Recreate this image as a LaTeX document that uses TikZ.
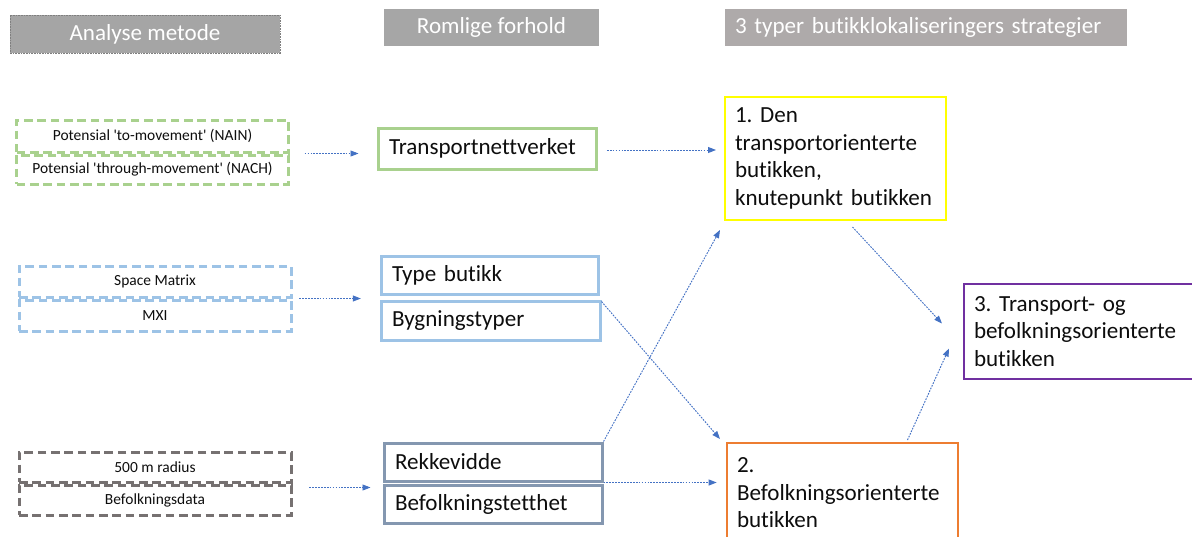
\documentclass[tikz,border=0pt]{standalone}
\usepackage{fontspec}
\setmainfont{Carlito}[Ligatures={NoCommon}]
\usetikzlibrary{arrows.meta,calc}
\frenchspacing

\definecolor{hdrA}{HTML}{A5A5A5}
\definecolor{hdrB}{HTML}{A6A6A6}
\definecolor{hdrC}{HTML}{AEAAAA}
\definecolor{hdrEdge}{HTML}{7F7F7F}
\definecolor{greenE}{HTML}{A9D18E}
\definecolor{blueE}{HTML}{9DC3E6}
\definecolor{grayE}{HTML}{767171}
\definecolor{slateE}{HTML}{8497B0}
\definecolor{yellowE}{HTML}{FFFF00}
\definecolor{orangeE}{HTML}{ED7D31}
\definecolor{purpleE}{HTML}{7030A0}
\definecolor{linkC}{HTML}{4472C4}
\definecolor{txt}{HTML}{0D0D0D}

\begin{document}
\begin{tikzpicture}[x=0.75pt,y=-0.75pt,
  header/.style={fill=#1, text=white, font=\fontsize{17.3}{20}\selectfont,
    inner sep=0pt},
  method/.style={draw=#1, line width=2.25pt, dash pattern=on 6.5pt off 3.5pt,
    text=txt, font=\fontsize{11.6}{13}\selectfont, inner sep=0pt,
    minimum width=272*0.75pt},
  spatial/.style={draw=#1, line width=2.25pt, text=txt,
    font=\fontsize{17.3}{20}\selectfont, align=left, inner xsep=8.25pt,
    inner ysep=0pt},
  strategy/.style={draw=#1, line width=1.5pt, text=txt,
    font=\fontsize{17.3}{20.6}\selectfont, align=left, inner xsep=7.5pt,
    inner ysep=0pt},
  link/.style={draw=linkC, line width=0.7pt, dash pattern=on 1.3pt off 0.9pt,
    -{Triangle[length=6pt,width=4.5pt]}}
]
\clip (0,0) rectangle (1192,536);
\useasboundingbox (0,0) rectangle (1192,536);

% column headers
\node[header=hdrA, draw=hdrEdge, line width=0.6pt, dash pattern=on 1.2pt off 0.8pt,
  minimum width=270*0.75pt, minimum height=38*0.75pt] (hA) at (145,34) {Analyse metode};
\node[header=hdrB, minimum width=215*0.75pt, minimum height=37*0.75pt] (hB) at (491.5,27.5) {Romlige forhold};
\node[header=hdrC, minimum height=37*0.75pt, text width=382*0.75pt, inner xsep=7.5pt,
  align=left] (hC) at (926,27.5) {3 typer butikklokaliseringers strategier};

% analysis methods
\node[method=greenE, minimum height=32*0.75pt] (g1) at (152.5,136) {Potensial \textquotesingle to-movement\textquotesingle{} (NAIN)};
\node[method=greenE, minimum height=29*0.75pt] (g2) at (152.5,169.5) {Potensial \textquotesingle through-movement\textquotesingle{} (NACH)};
\node[method=blueE, minimum height=31*0.75pt] (s1) at (155,281.5) {Space Matrix};
\node[method=blueE, minimum height=31*0.75pt] (s2) at (155,315.5) {MXI};
\node[method=grayE, minimum height=30*0.75pt] (p1) at (155,467) {500 m radius};
\node[method=grayE, minimum height=30*0.75pt] (p2) at (155,500) {Befolkningsdata};

% spatial conditions
\node[spatial=greenE, minimum height=41*0.75pt, text width=196*0.75pt] (tn) at (487,148.5) {Transportnettverket};
\node[spatial=blueE, minimum height=38*0.75pt, text width=195*0.75pt] (tb) at (489.5,275) {Type butikk};
\node[spatial=blueE, minimum height=39*0.75pt, text width=197*0.75pt] (by) at (490.5,320.5) {Bygningstyper};
\node[spatial=slateE, minimum height=38*0.75pt, text width=196*0.75pt] (rk) at (493,462) {Rekkevidde};
\node[spatial=slateE, minimum height=38*0.75pt, text width=196*0.75pt] (bt) at (493,504) {Befolkningstetthet};

% store location strategies
\node[strategy=yellowE, minimum height=123*0.75pt, text width=201*0.75pt] (b1) at (835.5,158.5)
  {1. Den\\transportorienterte\\butikken,\\knutepunkt butikken};
\node[strategy=orangeE, minimum height=100*0.75pt, text width=211*0.75pt] (b2) at (842.5,493)
  {2.\\Befolkningsorienterte\\butikken};
\node[strategy=purpleE, minimum height=95*0.75pt, text width=213*0.75pt] (b3) at (1080.5,331.5)
  {3. Transport- og\\befolkningsorienterte\\butikken};

% connector end points
\coordinate (tnOut) at ($(tn.east)+(0,1.5)$);
\coordinate (pOut) at ($(p1.south east)+(0,4)$);

% connectors
\draw[link, shorten <=11pt, shorten >=13.5pt] (g1.south east) -- (g1.south east -| tn.west);
\draw[link, shorten <=5pt, shorten >=14pt] (s1.south east) -- (s1.south east -| by.north west);
\draw[link, shorten <=12.5pt, shorten >=9pt] (pOut) -- (pOut -| rk.south west);
\draw[link, shorten <=7pt, shorten >=6pt] (tnOut) -- (tnOut -| b1.west);
\draw[link] ($(by.north east)+(0,2)$) -- ($(b2.north west)+(-6,-3)$);
\draw[link] (rk.north east) -- ($(b1.south west)+(-4,9)$);
\draw[link, shorten >=7pt] (rk.south east) -- (rk.south east -| b2.west);
\draw[link] ($(b1.south)+(17,6)$) -- ($(b3.west)+(-21,-8)$);
\draw[link] ($(b2.north)+(65,-2)$) -- ($(b3.west)+(-14,17)$);
\end{tikzpicture}
\end{document}
